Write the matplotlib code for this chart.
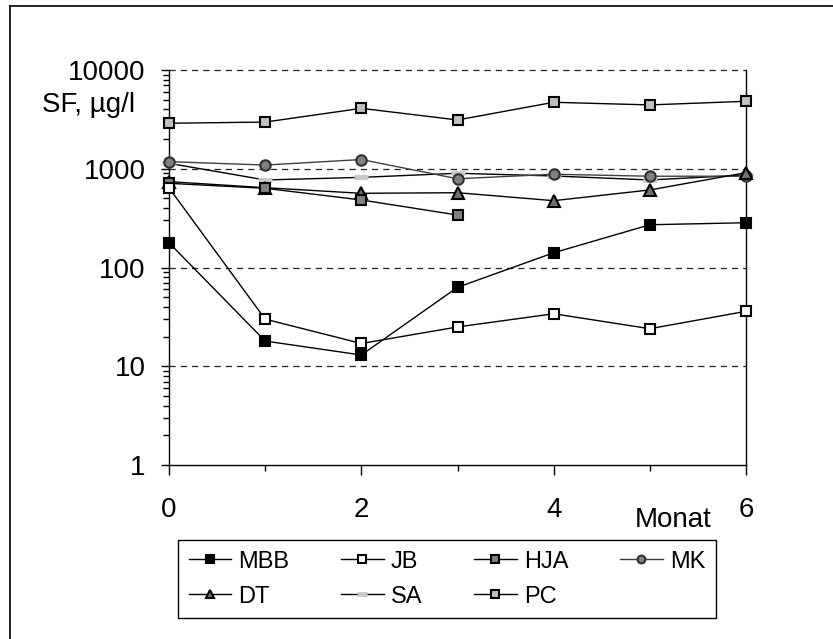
import matplotlib
matplotlib.use("Agg")
import matplotlib.pyplot as plt
from matplotlib.ticker import FixedLocator, NullFormatter
from matplotlib.lines import Line2D

plt.rcParams['font.family'] = ['Liberation Sans', 'DejaVu Sans']

# --- data ---
months = [0, 1, 2, 3, 4, 5, 6]
months_hja = [0, 1, 2, 3]

mbb = [178, 18, 13, 63, 141, 271, 284]
jb = [640, 30, 17, 25, 34, 24, 36]
hja = [712, 634, 483, 340]
mk = [1180, 1090, 1240, 792, 880, 840, 840]
dt = [740, 643, 564, 572, 475, 610, 912]
sa = [1135, 770, 818, 900, 845, 770, 865]
pc = [2890, 2970, 4090, 3120, 4710, 4430, 4820]

y_ticks = [1, 10, 100, 1000, 10000]
y_ticklabels = ["1", "10", "100", "1000", "10000"]
x_ticks = [0, 2, 4, 6]

# --- figure ---
fig = plt.figure(figsize=(8.33, 6.39), dpi=100)
ax = fig.add_axes([169 / 833, 1 - 465 / 639, (746 - 169) / 833, (465 - 70) / 639])

ms = 7.5
common = dict(linewidth=1.0, clip_on=False, zorder=5)

h_sa, = ax.plot(months, sa, color='black', marker='_', markersize=10, mew=3.5,
                mec='#c8c8c8', label='SA', **common)
h_mk, = ax.plot(months, mk, color='#404040', marker='o', markersize=ms,
                mfc='#808080', mec='#303030', mew=1.5, label='MK', **common)
h_dt, = ax.plot(months, dt, color='black', marker='^', markersize=ms + 1,
                mfc='#707070', mec='black', mew=1.5, label='DT', **common)
h_hja, = ax.plot(months_hja, hja, color='black', marker='s', markersize=ms,
                 mfc='#808080', mec='black', mew=1.5, label='HJA', **common)
h_jb, = ax.plot(months, jb, color='black', marker='s', markersize=ms,
                mfc='white', mec='black', mew=1.5, label='JB', **common)
h_mbb, = ax.plot(months, mbb, color='black', marker='s', markersize=ms,
                 mfc='black', mec='black', mew=1.5, label='MBB', **common)
h_pc, = ax.plot(months, pc, color='black', marker='s', markersize=ms,
                mfc='#c0c0c0', mec='black', mew=1.5, label='PC', **common)

ax.set_yscale('log')
ax.set_ylim(1, 10000)
ax.set_xlim(0, 6)

# dashed gridlines at decades
for v in [10, 100, 1000, 10000]:
    ax.axhline(v, color='#222222', linewidth=0.9, linestyle=(0, (5, 4)), zorder=1,
               clip_on=False)

ax.yaxis.set_major_locator(FixedLocator(y_ticks))
ax.set_yticklabels(y_ticklabels)
minor_y = [m * 10 ** e for e in range(0, 4) for m in range(2, 10)]
ax.yaxis.set_minor_locator(FixedLocator(minor_y))
ax.yaxis.set_minor_formatter(NullFormatter())

ax.set_xticks(x_ticks)
ax.set_xticks([1, 3, 5], minor=True)

ax.tick_params(axis='y', which='major', direction='out', length=6, width=1,
               labelsize=20, pad=11)
ax.tick_params(axis='y', which='minor', direction='out', length=4.5, width=1)
ax.tick_params(axis='x', which='major', direction='out', length=7, width=1,
               labelsize=20, pad=16)
ax.tick_params(axis='x', which='minor', direction='out', length=4, width=1)

for side in ['left', 'bottom', 'right']:
    ax.spines[side].set_linewidth(1.0)
    ax.spines[side].set_color('black')
ax.spines['top'].set_visible(False)

# labels
fig.text(135 / 833, 1 - 112 / 639, "SF, µg/l", fontsize=20, ha='right', va='baseline')
fig.text(673 / 833, 1 - 527 / 639, "Monat", fontsize=20, ha='center', va='baseline')

# legend (column-major ordering so rows read MBB JB HJA MK / DT SA PC)
order = [h_mbb, h_dt, h_jb, h_sa, h_hja, h_pc, h_mk]
leg = fig.legend(handles=order, labels=[h.get_label() for h in order],
                 ncol=4, loc='upper left',
                 bbox_to_anchor=(178 / 833, 1 - 540 / 639),
                 fontsize=17, frameon=True, fancybox=False, framealpha=1,
                 edgecolor='black', handlelength=1.8, handletextpad=0.3,
                 markerscale=0.75, borderaxespad=0, labelspacing=0.55,
                 borderpad=0.45, columnspacing=2.2)
leg.get_frame().set_linewidth(1.0)

# outer chart frame: only top and left edges visible in the reference crop
fig.add_artist(Line2D([10 / 833, 10 / 833], [0, 1 - 6 / 639], transform=fig.transFigure,
                      color='black', linewidth=1.2))
fig.add_artist(Line2D([10 / 833, 1], [1 - 6 / 639, 1 - 6 / 639], transform=fig.transFigure,
                      color='black', linewidth=1.2))

fig.savefig("out.png", dpi=100, facecolor='white')
